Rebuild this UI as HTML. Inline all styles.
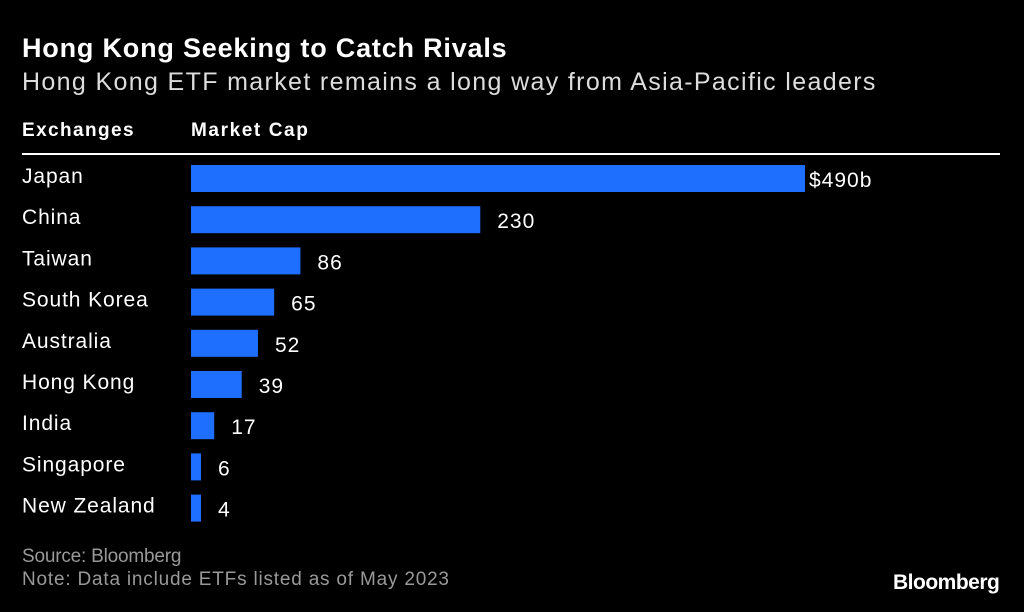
<!DOCTYPE html>
<html><head><meta charset="utf-8"><style>
body{margin:0;background:#000;width:1024px;height:612px;overflow:hidden;font-family:"Liberation Sans",sans-serif;color:#fff;position:relative}
.a{position:absolute;white-space:nowrap}
</style></head><body>
<div class="a" style="left:22px;top:33px;font-size:27px;font-weight:bold;letter-spacing:0.8px">Hong Kong Seeking to Catch Rivals</div>
<div class="a" style="left:22px;top:68px;font-size:25px;color:#ddd;letter-spacing:1.35px">Hong Kong ETF market remains a long way from Asia-Pacific leaders</div>
<div class="a" style="left:22px;top:120px;font-size:19px;font-weight:bold;letter-spacing:1.4px">Exchanges</div>
<div class="a" style="left:191px;top:120px;font-size:19px;font-weight:bold;letter-spacing:1.6px">Market Cap</div>
<div class="a" style="left:22px;top:153px;width:978px;height:2px;background:#fff"></div>
<svg id="chart" class="a" style="left:0;top:0" width="1024" height="612"></svg>
<div class="a" style="left:22px;top:546px;font-size:19px;color:#999;letter-spacing:-0.2px">Source: Bloomberg</div>
<div class="a" style="left:22px;top:569px;font-size:19px;color:#999;letter-spacing:0.8px">Note: Data include ETFs listed as of May 2023</div>
<div class="a" style="left:893px;top:571px;font-size:21px;font-weight:bold;letter-spacing:-0.5px">Bloomberg</div>
<script>
const categories=["Japan","China","Taiwan","South Korea","Australia","Hong Kong","India","Singapore","New Zealand"];
const values=[490,230,86,65,52,39,17,6,4];
const valueLabels=["$490b","230","86","65","52","39","17","6","4"];
const svg=document.getElementById('chart');
const NS='http://www.w3.org/2000/svg';
const x0=191,scale=612/490;
const xf=v=>x0+v*scale;
const yf=i=>165+i*41.2;
categories.forEach((c,i)=>{
 const y=yf(i);
 const w=Math.max(xf(values[i])-x0,8);
 const r=document.createElementNS(NS,'rect');
 
 
 r.setAttribute('x',x0);r.setAttribute('y',y);
 r.setAttribute('width',w+2);r.setAttribute('height',27);
 r.setAttribute('fill','#1f6fff');svg.appendChild(r);
 const t=document.createElementNS(NS,'text');
 
 
 t.setAttribute('x',22);t.setAttribute('y',y+18);
 t.setAttribute('fill','#fff');t.setAttribute('font-size','21');
 t.setAttribute('letter-spacing','0.9');
 t.setAttribute('font-family','Liberation Sans, sans-serif');
 t.textContent=c;svg.appendChild(t);
 const v=document.createElementNS(NS,'text');
 
 
 v.setAttribute('x',x0+w+(i==0?6:19));v.setAttribute('y',y+22);
 v.setAttribute('fill','#fff');v.setAttribute('font-size','21');
 v.setAttribute('letter-spacing','1');
 v.setAttribute('font-family','Liberation Sans, sans-serif');
 v.textContent=valueLabels[i];svg.appendChild(v);
});
</script>
</body></html>
